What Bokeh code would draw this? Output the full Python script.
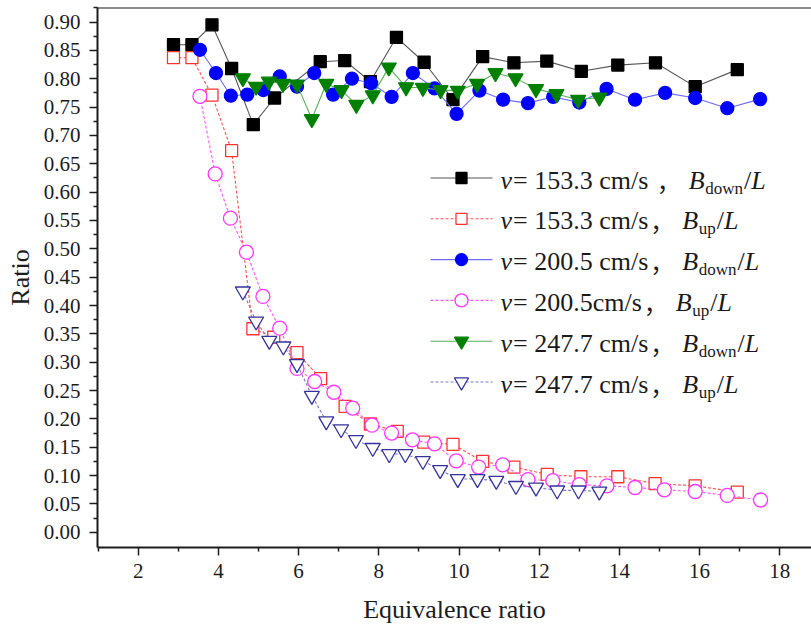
from bokeh.plotting import figure
from bokeh.models import Range1d, FixedTicker, PrintfTickFormatter, Span, ColumnDataSource
from bokeh.core.properties import value, field
from bokeh.embed import file_html
from bokeh.resources import INLINE

# ---------------- data ----------------
down_153_x = [2.88, 3.34, 3.84, 4.33, 4.87, 5.40, 6.54, 7.15, 7.79, 8.44, 9.13, 9.85,
              10.59, 11.37, 12.19, 13.05, 13.96, 14.90, 15.89, 16.94]
down_153_y = [0.860, 0.860, 0.895, 0.818, 0.719, 0.766, 0.830, 0.832, 0.795, 0.873, 0.829, 0.763,
              0.839, 0.828, 0.831, 0.813, 0.824, 0.828, 0.786, 0.816]

up_153_x = [2.88, 3.34, 3.84, 4.33, 4.86, 5.38, 5.96, 6.55, 7.16, 7.79, 8.46, 9.12, 9.85,
            10.59, 11.37, 12.20, 13.04, 13.96, 14.89, 15.89, 16.94]
up_153_y = [0.837, 0.837, 0.771, 0.673, 0.359, 0.344, 0.317, 0.271, 0.222, 0.191, 0.178, 0.159, 0.155,
            0.125, 0.115, 0.102, 0.098, 0.098, 0.086, 0.082, 0.071]

down_200_x = [3.54, 3.94, 4.31, 4.72, 5.12, 5.53, 5.96, 6.39, 6.86, 7.33, 7.81, 8.32, 8.85,
              9.39, 9.94, 10.51, 11.10, 11.72, 12.35, 13.00, 13.68, 14.39, 15.14, 15.89, 16.69, 17.51]
down_200_y = [0.851, 0.810, 0.770, 0.772, 0.780, 0.804, 0.786, 0.810, 0.772, 0.800, 0.792, 0.768, 0.810,
              0.783, 0.738, 0.779, 0.763, 0.757, 0.768, 0.758, 0.782, 0.763, 0.775, 0.766, 0.748, 0.764]

up_200_x = [3.54, 3.92, 4.30, 4.70, 5.11, 5.53, 5.96, 6.40, 6.88, 7.35, 7.83, 8.32, 8.84,
            9.39, 9.93, 10.49, 11.09, 11.72, 12.34, 13.00, 13.69, 14.39, 15.12, 15.89, 16.69, 17.52]
up_200_y = [0.769, 0.632, 0.554, 0.494, 0.416, 0.360, 0.289, 0.266, 0.247, 0.219, 0.189, 0.175, 0.163,
            0.156, 0.126, 0.115, 0.119, 0.093, 0.091, 0.084, 0.082, 0.079, 0.075, 0.072, 0.065, 0.057]

down_247_x = [4.61, 4.94, 5.26, 5.61, 5.96, 6.33, 6.69, 7.07, 7.44, 7.85, 8.25, 8.68, 9.10,
              9.54, 9.97, 10.45, 10.91, 11.41, 11.92, 12.43, 12.97, 13.50]
down_247_y = [0.801, 0.786, 0.795, 0.791, 0.790, 0.729, 0.791, 0.780, 0.754, 0.771, 0.820, 0.785, 0.784,
              0.780, 0.779, 0.791, 0.810, 0.801, 0.782, 0.773, 0.763, 0.767]

up_247_x = [4.61, 4.94, 5.27, 5.62, 5.96, 6.33, 6.69, 7.06, 7.43, 7.85, 8.26, 8.66, 9.10,
            9.53, 9.97, 10.46, 10.93, 11.42, 11.92, 12.45, 12.98, 13.50]
up_247_y = [0.425, 0.372, 0.338, 0.328, 0.297, 0.241, 0.196, 0.182, 0.163, 0.149, 0.138, 0.138, 0.126,
            0.110, 0.094, 0.094, 0.091, 0.082, 0.079, 0.074, 0.074, 0.072]

x_ticks = [2, 4, 6, 8, 10, 12, 14, 16, 18]
x_minor_ticks = [1, 3, 5, 7, 9, 11, 13, 15, 17]
y_ticks = [round(0.05 * i, 2) for i in range(19)]
y_minor_ticks = [round(0.025 + 0.05 * i, 3) for i in range(19)]

legend_speeds = ["153.3 cm/s ", "153.3 cm/s", "200.5 cm/s", "200.5cm/s", "247.7 cm/s", "247.7 cm/s"]
legend_subs = ["down", "up", "down", "up", "down", "up"]

x_label = "Equivalence ratio"
y_label = "Ratio"

# ---------------- layout ----------------
FONT = "Liberation Serif"
CJK = "Noto Sans CJK SC"
W, H = 811, 634
BL, BR, BT = 97, 0, 7
FH = 540
BB = H - BT - FH
FW = W - BL - BR
PX_X = 40.1
PX_Y = 567.0
x_start = 2 - (137.7 - BL) / PX_X
x_end = x_start + FW / PX_X
y_end = 0.9 + (21.5 - BT) / PX_Y
y_start = y_end - FH / PX_Y


def px_x(X):
    return x_start + (X - BL) / PX_X


def px_y(Y):
    return y_end - (Y - BT) / PX_Y


p = figure(width=W, height=H, output_backend="svg", toolbar_location=None,
           x_range=Range1d(x_start, x_end), y_range=Range1d(y_start, y_end),
           min_border_left=BL, min_border_right=BR, min_border_top=BT, min_border_bottom=BB)
p.outline_line_color = None
p.xgrid.visible = False
p.ygrid.visible = False
p.background_fill_color = "white"
p.border_fill_color = "white"

AX = "#1c1c1c"
for ax in (p.xaxis[0], p.yaxis[0]):
    ax.axis_line_color = AX
    ax.axis_line_width = 2
    ax.major_tick_line_color = AX
    ax.minor_tick_line_color = AX
    ax.major_tick_line_width = 1.5
    ax.minor_tick_line_width = 1.5
    ax.major_tick_in = 0
    ax.major_tick_out = 8
    ax.minor_tick_in = 0
    ax.minor_tick_out = 4
    ax.major_label_text_font = FONT
    ax.major_label_text_font_size = "21px"
    ax.major_label_text_color = AX
    ax.axis_label_text_font = FONT
    ax.axis_label_text_font_size = "26px"
    ax.axis_label_text_font_style = "normal"
    ax.axis_label_text_color = AX

p.xaxis.ticker = FixedTicker(ticks=x_ticks, minor_ticks=x_minor_ticks)
p.yaxis.ticker = FixedTicker(ticks=y_ticks, minor_ticks=y_minor_ticks)
p.yaxis.formatter = PrintfTickFormatter(format="%.2f")
p.xaxis.axis_label = x_label
p.yaxis.axis_label = y_label
p.xaxis.major_label_standoff = 8
p.xaxis.axis_label_standoff = 14
p.yaxis.major_label_standoff = 9
p.yaxis.axis_label_standoff = 6

p.add_layout(Span(location=y_end, dimension="width", line_color=AX, line_width=2))

series = [
    dict(x=down_153_x, y=down_153_y, line="#555555", dash="solid", marker="square", size=12,
         fill="#000000", stroke="#000000"),
    dict(x=up_153_x, y=up_153_y, line="#FF5050", dash="3 2", marker="square", size=12,
         fill="white", stroke="#FF3333"),
    dict(x=down_200_x, y=down_200_y, line="#6B6BFF", dash="solid", marker="circle", size=13,
         fill="#0000FF", stroke="#0000FF"),
    dict(x=up_200_x, y=up_200_y, line="#FF55FF", dash="3 2", marker="circle", size=14,
         fill="white", stroke="#FF33FF"),
    dict(x=down_247_x, y=down_247_y, line="#5AAE5A", dash="solid", marker="inverted_triangle", size=15,
         fill="#008000", stroke="#008000"),
    dict(x=up_247_x, y=up_247_y, line="#7A7AC0", dash="3 2", marker="inverted_triangle", size=15,
         fill="white", stroke="#333399"),
]

for s in series:
    p.line(s["x"], s["y"], line_color=s["line"], line_width=1.1, line_dash=s["dash"])
    p.scatter(s["x"], s["y"], marker=s["marker"], size=s["size"], fill_color=s["fill"],
              line_color=s["stroke"], line_width=1.3)

# ---------------- legend (manual, with subscripts) ----------------
REG = {"0": .5, "1": .5, "2": .5, "3": .5, "4": .5, "5": .5, "6": .5, "7": .5, "8": .5, "9": .5,
       ".": .25, " ": .25, "=": .564, "c": .444, "m": .778, "/": .278, "s": .389,
       "d": .5, "o": .5, "w": .722, "n": .5, "u": .5, "p": .5, "，": 1.0}
ITA = {"v": .444, "B": .611, "L": .556}


def tw(text, size, italic=False):
    table = ITA if italic else REG
    return sum(table.get(ch, 0.5) for ch in text) * size


MAIN = 26
SUB = 17
row_y0, row_dy = 177.5, 40.8
tx, ty, tt, tst, tsz, tfn = [], [], [], [], [], []


def put(X, Y, text, style, size, font=FONT):
    tx.append(px_x(X))
    ty.append(px_y(Y))
    tt.append(text)
    tst.append(style)
    tsz.append(f"{size}px")
    tfn.append(font)


for i, s in enumerate(series):
    ry = row_y0 + i * row_dy
    p.line([px_x(430), px_x(492)], [px_y(ry), px_y(ry)], line_color=s["line"], line_width=1.1,
           line_dash=s["dash"])
    p.scatter([px_x(461)], [px_y(ry)], marker=s["marker"], size=s["size"] - 1, fill_color=s["fill"],
              line_color=s["stroke"], line_width=1.3)
    X = 500
    put(X, ry + 2, "v", "italic", MAIN)
    X += tw("v", MAIN, True) + 1
    prefix = "= " + legend_speeds[i]
    put(X, ry + 2, prefix, "normal", MAIN)
    X += tw(prefix, MAIN) + 2
    put(X, ry + 2, "，", "normal", 24, CJK)
    X += 32
    put(X, ry + 2, "B", "italic", MAIN)
    X += tw("B", MAIN, True) + 0.5
    put(X, ry + 10, legend_subs[i], "normal", SUB)
    X += tw(legend_subs[i], SUB) + 1
    put(X, ry + 2, "/", "normal", MAIN)
    X += tw("/", MAIN)
    put(X, ry + 2, "L", "italic", MAIN)

src = ColumnDataSource(dict(x=tx, y=ty, text=tt, style=tst, size=tsz, font=tfn))
p.text(x="x", y="y", text="text", source=src, text_font=field("font"), text_font_style=field("style"),
       text_font_size=field("size"), text_baseline="middle", text_align="left", text_color="#1a1a1a")

open("out.html", "w").write(file_html(p, INLINE))
